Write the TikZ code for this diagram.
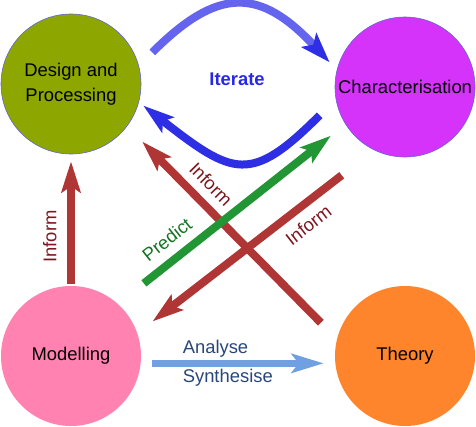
\documentclass[tikz,border=0pt]{standalone}
\usepackage{fontspec}
\setmainfont{Liberation Sans}
\usetikzlibrary{arrows.meta}
\definecolor{designgreen}{RGB}{141,167,0}
\definecolor{charpurple}{RGB}{214,51,250}
\definecolor{modelpink}{RGB}{255,130,176}
\definecolor{theoryorange}{RGB}{255,133,45}
\definecolor{rimblue}{RGB}{100,100,210}
\definecolor{informred}{RGB}{176,53,53}
\definecolor{informtext}{RGB}{125,22,30}
\definecolor{predgreen}{RGB}{34,150,52}
\definecolor{predtext}{RGB}{20,115,35}
\definecolor{itrlight}{RGB}{100,100,238}
\definecolor{itrdark}{RGB}{46,46,228}
\definecolor{itrtext}{RGB}{40,40,232}
\definecolor{anablue}{RGB}{112,160,226}
\definecolor{anatext}{RGB}{40,70,122}
\newcommand\labelsize{\fontsize{18.4}{25}\selectfont}
\tikzset{
    stage/.style={
        circle, minimum size=140pt, inner sep=0pt,
        align=center, font=\labelsize
    },
    rim/.style={
        draw=rimblue, line width=0.6pt
    },
    fat/.style={
        line width=8pt, -{Stealth[length=31pt, width=19pt, inset=6pt]}
    },
    inf/.style={
        fat, draw=informred
    },
    pred/.style={
        fat, draw=predgreen
    },
    ana/.style={
        line width=6.5pt, draw=anablue,
        -{Stealth[length=32pt, width=19pt, inset=7pt]}
    },
    tag/.style={
        font=\labelsize, sloped
    }
}

\begin{document}
\begin{tikzpicture}[x=1pt, y=1pt]
        \useasboundingbox (0,0) rectangle (476,-426);

        \node[stage, rim, fill=designgreen] (design) at (71,-84) {Design and\\Processing};
        \node[stage, rim, fill=charpurple]   (char)   at (405,-87) {Characterisation};
        \node[stage, fill=modelpink]         (model)  at (71,-356) {Modelling};
        \node[stage, fill=theoryorange]      (theory) at (405,-356) {Theory};

        % iterate loop
        \path (design.15) edge[fat, draw=itrlight, -{Stealth[length=30pt, width=20pt, inset=6pt, color=itrdark]},
                    out=45, in=133, looseness=1.45, shorten <=19pt, shorten >=10.5pt] (char.166)
              (char.190) edge[fat, draw=itrdark, out=225, in=-38, looseness=1.56,
                    shorten <=22.7pt, shorten >=5.5pt] (design.-15);

        \node[font=\labelsize\bfseries, text=itrtext] (iterlbl) at (237,-79) {Iterate};

        % inform
        \path (model.north) edge[inf, shorten <=2pt, shorten >=7pt]
                    node[tag, pos=0.375, above=7pt, text=informtext] {Inform} (design.south)
              (theory.166) edge[inf, shorten <=22.8pt, shorten >=21.4pt]
                    node[tag, pos=0.665, above=5pt, text=informtext] {Inform} (design.-37.4)
              (char.244) edge[inf, shorten <=41pt, shorten >=19.1pt]
                    node[tag, pos=0.327, below=5pt, text=informtext] {Inform} (model.19.6);

        % predict
        \path (model.48.9) edge[pred, shorten <=33pt, shorten >=18.4pt]
                    node[tag, pos=0.27, above=6pt, text=predtext] {Predict} (char.212.8);

        % analyse / synthesise
        \path (model.-6.6) edge[ana, shorten <=11.5pt, shorten >=11.5pt]
                    node[font=\labelsize, text=anatext, pos=0.182, anchor=base west, yshift=10pt] {Analyse}
                    node[font=\labelsize, text=anatext, pos=0.182, anchor=base west, yshift=-19pt] {Synthesise}
                    (theory.186.6);
    \end{tikzpicture}
\end{document}
